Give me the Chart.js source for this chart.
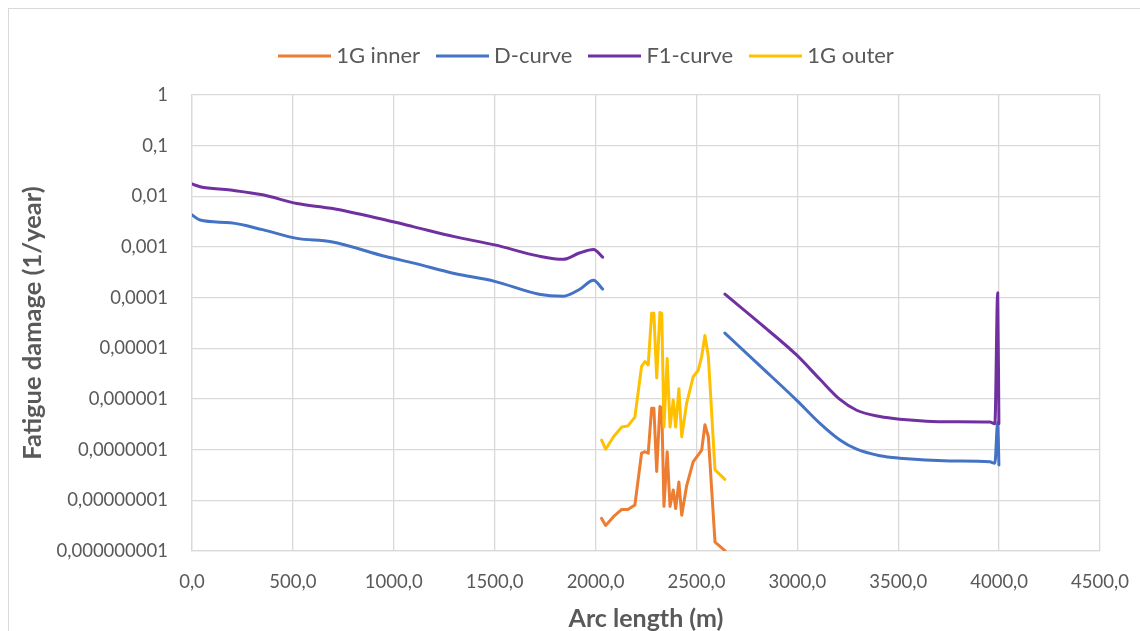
<!DOCTYPE html>
<html>
<head>
<meta charset="utf-8">
<script src="https://cdn.jsdelivr.net/npm/chart.js@4"></script>
<style>
  html, body { margin: 0; padding: 0; background: #fff; overflow: hidden; }
  #frame { position: absolute; left: 8px; top: 8px; width: 1200px; height: 700px; border: 1px solid #d9d9d9; }
  #damage-chart { position: absolute; left: 0; top: 0; }
</style>
</head>
<body>
<div id="frame"></div>
<canvas id="damage-chart" width="1140" height="631"></canvas>
<script>
// arc length (m) for the D / F1 curves, null entry breaks the line
const curveArc = [0, 40, 190, 350, 520, 690, 960, 1100, 1300, 1500, 1720, 1840, 1920, 1990, 2035, 2300,
  2641, 2815, 2996, 3112, 3211, 3294, 3409, 3508, 3756, 3954, 3979, 3993, 3999];
const dCurve = [0.0043, 0.0034, 0.0030, 0.0022, 0.00148, 0.00127, 0.00065, 0.00048, 0.0003, 0.00021, 1.17e-4, 1.07e-4, 1.45e-4, 2.2e-4, 1.48e-4, null,
  2.0e-5, 4.5e-6, 9.5e-7, 3.3e-7, 1.55e-7, 1.02e-7, 7.6e-8, 6.8e-8, 6.0e-8, 5.75e-8, 5.4e-8, 3.5e-7, 5.0e-8];
const f1Curve = [0.0175, 0.0155, 0.0133, 0.0107, 0.0072, 0.0058, 0.0034, 0.0025, 0.0016, 0.0011, 0.00066, 0.00057, 0.00076, 0.00089, 0.00063, null,
  1.17e-4, 3.1e-5, 7.4e-6, 2.45e-6, 9.8e-7, 6.0e-7, 4.5e-7, 4.0e-7, 3.55e-7, 3.5e-7, 3.25e-7, 1.25e-4, 3.25e-7];

// arc length (m) for the 1G inner / outer results
const gArc = [2030, 2050, 2090, 2130, 2160, 2195, 2228, 2245, 2261, 2278, 2289, 2303, 2319, 2328, 2339, 2355, 2369,
  2385, 2397, 2413, 2427, 2451, 2484, 2509, 2526, 2542, 2559, 2592, 2641];
const gInner = [4.4e-9, 3.2e-9, 4.8e-9, 6.6e-9, 6.6e-9, 8.1e-9, 8.5e-8, 9.1e-8, 8.5e-8, 6.6e-7, 6.6e-7, 3.7e-8, 7.1e-7, 6.6e-7, 7.6e-9, 9.1e-8, 7.6e-9,
  1.6e-8, 6.9e-9, 2.3e-8, 5.1e-9, 1.9e-8, 5.8e-8, 7.9e-8, 9.8e-8, 3.1e-7, 1.8e-7, 1.5e-9, 1.02e-9];
const gOuter = [1.55e-7, 1.02e-7, 1.82e-7, 2.8e-7, 2.95e-7, 4.4e-7, 4.4e-6, 5.5e-6, 4.7e-6, 4.9e-5, 4.9e-5, 2.6e-6, 5.1e-5, 4.9e-5, 2.8e-7, 6.3e-6, 2.8e-7,
  9.5e-7, 2.8e-7, 1.6e-6, 1.8e-7, 8.1e-7, 2.75e-6, 3.7e-6, 6.9e-6, 1.8e-5, 6.9e-6, 4.0e-8, 2.6e-8];

const xTickValues = [0, 500, 1000, 1500, 2000, 2500, 3000, 3500, 4000, 4500];
const xTickLabels = ['0,0', '500,0', '1000,0', '1500,0', '2000,0', '2500,0', '3000,0', '3500,0', '4000,0', '4500,0'];
const yTickValues = [1e-9, 1e-8, 1e-7, 1e-6, 1e-5, 1e-4, 1e-3, 1e-2, 1e-1, 1];
const yTickLabels = ['0,000000001', '0,00000001', '0,0000001', '0,000001', '0,00001', '0,0001', '0,001', '0,01', '0,1', '1'];

const textColor = '#595959';
const gridColor = '#d9d9d9';

function points(xs, ys) {
  return xs.map((x, i) => ({ x: x, y: ys[i] }));
}

function lineSet(label, xs, ys, color, order, smooth) {
  return {
    label: label,
    data: points(xs, ys),
    borderColor: color,
    backgroundColor: color,
    borderWidth: 3,
    borderCapStyle: 'round',
    borderJoinStyle: 'round',
    pointRadius: 0,
    pointHoverRadius: 0,
    spanGaps: false,
    cubicInterpolationMode: smooth ? 'monotone' : 'default',
    tension: 0,
    order: order
  };
}

// legend swatch: a 53px line that runs a little past the legend box on both sides
const swatchBox = 41;
function legendSwatch(color) {
  const c = document.createElement('canvas');
  c.width = swatchBox + 12;
  c.height = 4;
  const g = c.getContext('2d');
  g.fillStyle = color;
  g.fillRect(0, 0.5, c.width, 3);
  return c;
}

// leave room between the legend row and the plot, and centre the row over the plot
const legendPlace = {
  id: 'legendPlace',
  beforeInit(chart) {
    const fit = chart.legend.fit;
    chart.legend.fit = function () {
      fit.call(this);
      this.height += 18;
    };
  },
  afterLayout(chart) {
    chart.legend.left += 39;
    chart.legend.right += 39;
  }
};

const ctx = document.getElementById('damage-chart').getContext('2d');
new Chart(ctx, {
  type: 'line',
  data: {
    datasets: [
      lineSet('1G inner', gArc, gInner, '#ED7D31', 3, false),
      lineSet('D-curve', curveArc, dCurve, '#4472C4', 2, true),
      lineSet('F1-curve', curveArc, f1Curve, '#7030A0', 1, true),
      lineSet('1G outer', gArc, gOuter, '#FFC000', 0, false)
    ]
  },
  options: {
    responsive: false,
    animation: false,
    events: [],
    layout: { padding: { top: 23, right: 40, bottom: 0, left: 0 } },
    font: { family: 'Lato' },
    plugins: {
      tooltip: { enabled: false },
      legend: {
        position: 'top',
        labels: {
          usePointStyle: true,
          pointStyleWidth: swatchBox,
          padding: 22,
          color: textColor,
          font: { family: 'Lato', size: 22 },
          generateLabels: (chart) => chart.data.datasets.map((ds, i) => ({
            text: ds.label,
            fillStyle: ds.borderColor,
            strokeStyle: ds.borderColor,
            lineWidth: 0,
            pointStyle: legendSwatch(ds.borderColor),
            hidden: false,
            fontColor: textColor,
            datasetIndex: i
          }))
        }
      }
    },
    scales: {
      x: {
        type: 'linear',
        min: 0,
        max: 4500,
        afterBuildTicks: (scale) => { scale.ticks = xTickValues.map(v => ({ value: v })); },
        afterFit: (scale) => {
          scale.height = 80;
          // the last label may hang into the right margin
          scale.paddingRight = 0;
        },
        ticks: {
          autoSkip: false,
          maxRotation: 0,
          padding: 20,
          color: textColor,
          font: { family: 'Lato', size: 18.5 },
          callback: (value, index) => xTickLabels[index]
        },
        grid: { color: gridColor, lineWidth: 1.3, drawTicks: false },
        border: { color: gridColor, width: 1.3 },
        title: {
          display: true,
          text: 'Arc length (m)',
          color: textColor,
          font: { family: 'Lato', size: 25, weight: 'bold', lineHeight: 1 },
          padding: { top: 0, bottom: 0 }
        }
      },
      y: {
        type: 'logarithmic',
        min: 1e-9,
        max: 1,
        afterBuildTicks: (scale) => { scale.ticks = yTickValues.map(v => ({ value: v })); },
        afterFit: (scale) => { scale.width = 192; },
        ticks: {
          padding: 24,
          color: textColor,
          font: { family: 'Lato', size: 18.5 },
          callback: (value, index) => yTickLabels[index]
        },
        grid: { color: gridColor, lineWidth: 1.3, drawTicks: false },
        border: { color: gridColor, width: 1.3 },
        title: {
          display: true,
          text: 'Fatigue damage (1/year)',
          color: textColor,
          font: { family: 'Lato', size: 25.5, weight: 'bold', lineHeight: 1 },
          padding: { top: 20, bottom: 0 }
        }
      }
    }
  },
  plugins: [legendPlace]
});
</script>
</body>
</html>
